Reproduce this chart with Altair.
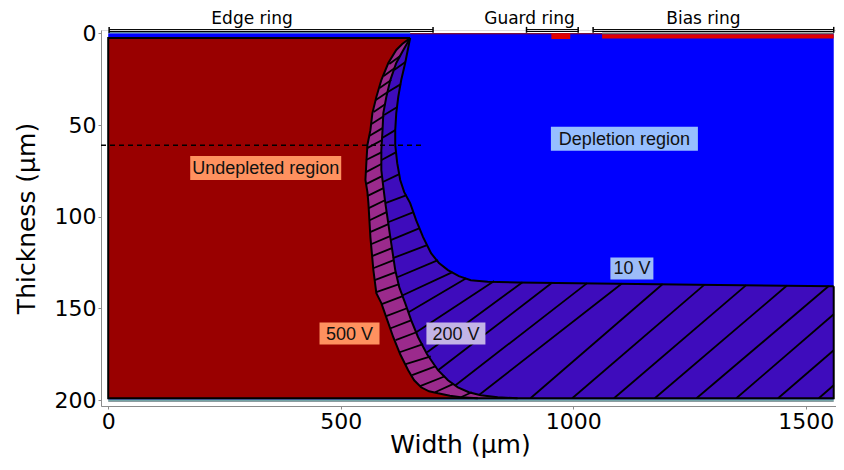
import altair as alt
import pandas as pd

# ---------------- data (µm) ----------------
x10 = [649.3, 645.0, 638.6, 630.1, 623.7, 619.4, 617.2, 617.2, 621.5, 627.9, 636.5, 649.3,
       662.1, 677.1, 694.2, 711.3, 730.6, 754.1, 779.7, 816.1, 880.2, 1051.3, 1265.1, 1560.1]
y10 = [2.6, 8.0, 16.2, 25.5, 34.7, 43.5, 52.8, 60.9, 70.8, 80.0, 86.6, 92.6,
       101.9, 111.1, 119.9, 125.3, 129.1, 132.4, 134.6, 135.4, 135.9, 136.4, 137.1, 137.9]
x200 = [649.3, 632.2, 619.4, 606.6, 598.0, 591.6, 589.9, 587.3, 587.3, 591.6, 595.9, 606.6, 617.2,
        625.8, 638.6, 651.4, 666.4, 685.7, 709.2, 730.6, 751.9, 775.5, 801.1, 837.5, 880.2]
y200 = [2.6, 10.2, 16.2, 25.5, 34.7, 43.5, 52.8, 63.7, 74.6, 83.9, 92.6, 111.1, 129.1,
        138.4, 147.1, 156.4, 165.7, 175.0, 183.7, 189.2, 193.0, 195.7, 197.3, 198.4, 199.0]
x500 = [649.3, 632.2, 619.4, 602.3, 587.3, 576.6, 568.1, 563.8, 557.4, 555.2, 553.1, 557.4, 559.5, 563.8,
        570.2, 576.6, 587.3, 600.1, 613.0, 627.9, 645.0, 657.9, 672.8, 689.9, 709.2, 734.8, 758.4, 794.7]
y500 = [2.6, 5.8, 9.1, 16.2, 25.5, 34.7, 43.5, 52.8, 60.9, 70.2, 80.0, 86.6, 92.6, 111.1,
        129.1, 141.7, 147.1, 156.4, 165.7, 175.0, 183.7, 189.2, 193.0, 195.2, 196.3, 197.6, 198.4, 199.0]

device_x = [649.3, 0.0, 0.0, 1560.1, 1560.1]
device_y = [2.6, 2.6, 199.0, 199.0, 137.9]
device_right = 1560.1
device_bottom = 199.0

hatch_purple = [
    [614.9, 20.0, 639.1, 15.7], [601.2, 32.0, 629.4, 27.7], [593.3, 44.6, 621.7, 40.2],
    [589.0, 57.1, 617.2, 52.8], [587.8, 69.1, 619.4, 64.8], [590.5, 81.1, 626.0, 76.8],
    [595.9, 92.6, 641.8, 88.2], [601.8, 103.0, 656.6, 97.5], [607.6, 112.8, 669.8, 106.2],
    [612.1, 122.6, 685.7, 115.5], [621.7, 133.0, 709.2, 123.7], [633.5, 142.8, 740.4, 130.2],
    [645.9, 152.1, 769.9, 133.5], [662.4, 163.0, 830.0, 135.1], [685.9, 173.9, 890.9, 135.7],
    [709.2, 183.7, 955.0, 135.9], [746.8, 191.9, 1029.9, 136.2], [798.1, 197.1, 1104.7, 136.4],
    [908.0, 199.0, 1192.4, 136.7], [997.8, 199.0, 1282.2, 137.0], [1087.6, 199.0, 1371.9, 137.3],
    [1175.3, 199.0, 1459.6, 137.5], [1265.1, 199.0, 1549.4, 137.8], [1350.6, 199.0, 1560.1, 153.2],
    [1440.4, 199.0, 1560.1, 172.8], [1528.0, 199.0, 1560.1, 191.9],
]
hatch_magenta = [
    [604.4, 16.7, 627.9, 12.4], [592.5, 23.3, 616.2, 18.9], [583.5, 29.8, 608.7, 25.5],
    [575.5, 36.4, 601.2, 32.0], [570.8, 42.9, 596.3, 38.6], [566.1, 49.5, 593.1, 45.1],
    [561.2, 56.0, 589.9, 51.7], [556.9, 62.6, 589.0, 58.2], [554.4, 69.1, 588.4, 64.8],
    [554.2, 75.7, 587.3, 71.3], [554.2, 82.2, 588.8, 77.9], [556.7, 88.8, 592.0, 84.4],
    [560.2, 95.3, 595.0, 91.0], [562.1, 101.9, 598.6, 97.5], [563.1, 108.4, 602.5, 104.0],
    [565.1, 115.0, 606.3, 110.6], [567.4, 121.5, 610.2, 117.1], [569.8, 128.1, 614.0, 123.7],
    [573.0, 134.6, 618.5, 130.2], [576.4, 141.1, 625.8, 136.8], [588.2, 147.7, 633.3, 143.3],
    [597.8, 154.2, 642.5, 149.9], [607.4, 160.8, 652.5, 156.4], [617.9, 167.3, 662.8, 163.0],
    [626.7, 173.9, 677.1, 169.5], [639.7, 180.4, 693.6, 176.1], [653.6, 186.4, 704.9, 181.5],
    [670.7, 192.4, 724.1, 187.0], [702.8, 195.7, 741.2, 191.3], [758.4, 198.4, 781.9, 195.7],
]

layers = [
    [0.0, 649.3, -0.9, 0.0, "#5f8f9f"],
    [649.3, 1062.0, 0.0, 0.55, "#8b0000"],
    [952.9, 993.5, 0.0, 3.1, "#e00000"],
    [1062.0, 1560.1, -0.5, 0.5, "#707070"],
    [1062.0, 1560.1, 0.5, 2.9, "#e00000"],
    [0.0, 1560.1, 199.0, 199.8, "#2a3ab5"],
    [0.0, 1560.1, 199.8, 200.4, "#3c8c8c"],
    [0.0, 1560.1, 200.4, 201.0, "#8c9ca0"],
]

ring_names = ["Edge ring", "Guard ring", "Bias ring"]
ring_start = [2.0, 899.5, 1042.7]
ring_end = [698.5, 1010.6, 1560.1]
ring_label_x = [309.4, 905.9, 1280.0]

lab_text = ["Undepleted region", "Depletion region", "10 V", "500 V", "200 V"]
lab_x = [338.7, 1110.0, 1126.1, 518.9, 747.7]
lab_y = [73.5, 57.5, 128.2, 163.7, 163.7]

dash_x = [-15.5, 681.0]
dash_y = 61.0

x_ticks = [0, 500, 1000, 1500]
y_ticks = [0, 50, 100, 150, 200]

# ---------------- styles ----------------
C_RED = "#990000"
C_BLUE = "#0000ff"
C_PURPLE = "#3e0cbc"
C_MAGENTA = "#9b2a8c"
box_w = [151, 147, 43, 60, 59]
box_h = [24, 24, 22, 22, 22]
box_c = ["#ff915f", "#96beff", "#9cbcf8", "#ff915f", "#c3b4e6"]

XS = alt.Scale(domain=[-15.5, 1565], nice=False, zero=False)
YS = alt.Scale(domain=[-1.8, 203.2], reverse=True, nice=False, zero=False)

x_axis = alt.Axis(values=x_ticks, format="d", title="Width (µm)", grid=False, domainColor="#8c8c8c",
                  tickColor="#8c8c8c", tickSize=3, labelFontSize=22, labelFont="DejaVu Sans",
                  labelColor="black", titleFontSize=25, titleFont="DejaVu Sans",
                  titleFontWeight="normal", titleColor="black", labelPadding=2,
                  titleX=359, titleY=46, titleBaseline="alphabetic", labelFlush=False)
y_axis = alt.Axis(values=y_ticks, format="d", title="Thickness (µm)", grid=False, domainColor="#8c8c8c",
                  tickColor="#8c8c8c", tickSize=3, labelFontSize=22, labelFont="DejaVu Sans",
                  labelColor="black", titleFontSize=25, titleFont="DejaVu Sans",
                  titleFontWeight="normal", titleColor="black", labelPadding=2,
                  titleX=-67, titleY=188, titleAngle=270, titleBaseline="alphabetic")


def X(f):
    return alt.X(f, type="quantitative", scale=XS, axis=x_axis)


def Y(f):
    return alt.Y(f, type="quantitative", scale=YS, axis=y_axis)


def curve_df(xs, ys, extra_x=None, extra_y=None):
    xx = list(xs) + ([] if extra_x is None else extra_x)
    yy = list(ys) + ([] if extra_y is None else extra_y)
    return pd.DataFrame({"x": xx, "y": yy, "xleft": [0.0] * len(xx), "i": list(range(len(xx)))})


bg = alt.Chart(pd.DataFrame({"x": [0.0], "x2": [device_right], "y": [0.0], "y2": [device_bottom]})).mark_rect(
    color=C_BLUE).encode(x=X("x"), x2="x2", y=Y("y"), y2="y2")

layer_df = pd.DataFrame(layers, columns=["x", "x2", "y", "y2", "c"])
strips = alt.Chart(layer_df).mark_rect().encode(
    x=X("x"), x2="x2", y=Y("y"), y2="y2", color=alt.Color("c:N", scale=None))


def area(xs, ys, color, ex=None, ey=None):
    return alt.Chart(curve_df(xs, ys, ex, ey)).mark_area(orient="horizontal", color=color).encode(
        y=Y("y"), x=X("x"), x2=alt.X2("xleft"))


a_purple = area(x10, y10, C_PURPLE, [device_right], [device_bottom])
a_magenta = area(x200, y200, C_MAGENTA)
a_red = area(x500, y500, C_RED)

hatch_df = pd.DataFrame(hatch_purple + hatch_magenta, columns=["x1", "y1", "x2", "y2"])
hatch = alt.Chart(hatch_df).mark_rule(color="black", strokeWidth=1.8).encode(
    x=X("x1"), y=Y("y1"), x2="x2", y2="y2")


def line(xs, ys, w=2.0):
    return alt.Chart(curve_df(xs, ys)).mark_line(color="black", strokeWidth=w).encode(
        x=X("x"), y=Y("y"), order=alt.Order("i:Q"))


l10 = line(x10, y10)
l200 = line(x200, y200)
l500 = line(x500, y500)
outline = line(device_x, device_y)

dash = alt.Chart(pd.DataFrame({"x": [dash_x[0]], "x2": [dash_x[1]], "y": [dash_y]})).mark_rule(
    color="black", strokeWidth=1.5, strokeDash=[5, 4]).encode(x=X("x"), x2="x2", y=Y("y"))

ring_df = pd.DataFrame({"name": ring_names, "s": ring_start, "e": ring_end, "lx": ring_label_x,
                        "yb": [-1.55] * 3, "yt1": [-3.5] * 3, "yt2": [-0.3] * 3, "ylab": [-5.1] * 3})
ring_outer = alt.Chart(ring_df).mark_rule(color="black", strokeWidth=3).encode(
    x=X("s"), x2="e", y=Y("yb"))
ring_inner = alt.Chart(ring_df).mark_rule(color="#dddddd", strokeWidth=1).encode(
    x=X("s"), x2="e", y=Y("yb"))
ring_tick_s = alt.Chart(ring_df).mark_rule(color="black", strokeWidth=1.5).encode(
    x=X("s"), y=Y("yt1"), y2="yt2")
ring_tick_e = alt.Chart(ring_df).mark_rule(color="black", strokeWidth=1.5).encode(
    x=X("e"), y=Y("yt1"), y2="yt2")
ring_text = alt.Chart(ring_df).mark_text(font="DejaVu Sans", fontSize=17, color="black",
                                         baseline="alphabetic").encode(
    x=X("lx"), y=Y("ylab"), text="name:N")

label_layers = []
for t, lx, ly, w, h, c in zip(lab_text, lab_x, lab_y, box_w, box_h, box_c):
    d = pd.DataFrame({"t": [t], "x": [lx], "y": [ly]})
    label_layers.append(alt.Chart(d).mark_rect(width=w, height=h, color=c).encode(x=X("x"), y=Y("y")))
    label_layers.append(alt.Chart(d).mark_text(font="Liberation Sans", fontSize=18, color="#111111",
                                               baseline="middle", dy=1).encode(
        x=X("x"), y=Y("y"), text="t:N"))

chart = alt.layer(
    bg, strips, a_purple, a_magenta, a_red, hatch, l10, l200, l500, outline, dash,
    ring_outer, ring_inner, ring_tick_s, ring_tick_e, ring_text, *label_layers
).properties(
    width=735, height=376,
    autosize=alt.AutoSizeParams(type="none"),
    padding={"left": 93, "top": 22, "right": 0, "bottom": 53},
).configure_view(stroke=None).configure(background="white")

chart.save("out.html", embed_options={"renderer": "svg", "actions": False})
